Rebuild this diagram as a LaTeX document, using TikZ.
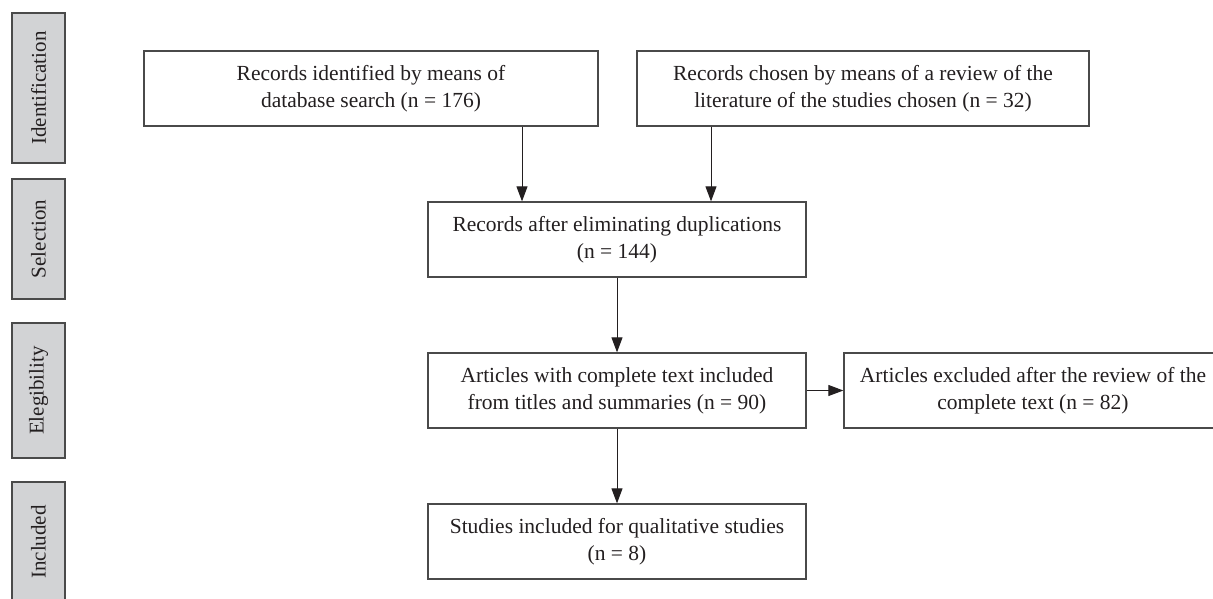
\documentclass[tikz,border=0pt]{standalone}
\usepackage{fontspec}
\setmainfont{Liberation Serif}
\usetikzlibrary{arrows.meta}
\definecolor{boxline}{HTML}{4A4A4A}
\definecolor{inkc}{HTML}{231F20}
\definecolor{barfill}{HTML}{D2D3D5}
\begin{document}
\begin{tikzpicture}[x=1pt,y=-1pt,
  box/.style={draw=boxline, line width=1.3pt, align=center, inner sep=0pt,
    minimum height=75pt, text=inkc, font=\fontsize{21.5}{27}\selectfont},
  bar/.style={draw=boxline, fill=barfill, line width=1.3pt, rotate=90, inner sep=0pt,
    minimum height=53pt, text=inkc, font=\fontsize{21}{24}\selectfont},
  arr/.style={draw=inkc, line width=1pt, -{Triangle[length=15pt,width=11pt]}}]
\useasboundingbox (0,0) rectangle (1213,598);
\fill[white] (0,0) rectangle (1213,598);
\clip (0,0) rectangle (1213,598);
% side bars
\node[bar, minimum width=150pt] (bid) at (38.5,88) {Identification};
\node[bar, minimum width=120pt] (bsel) at (38.5,239) {Selection};
\node[bar, minimum width=135pt] (bel) at (38.5,390.5) {Elegibility};
\node[bar, minimum width=120pt] (binc) at (38.5,542) {Included};
% boxes
\node[box, minimum width=454pt] (b1) at (371,88.5) {Records identified by means of\\database search (n = 176)};
\node[box, minimum width=452pt] (b2) at (863,88.5) {Records chosen by means of a review of the\\literature of the studies chosen (n = 32)};
\node[box, minimum width=378pt] (b3) at (617,239.5) {Records after eliminating duplications\\(n = 144)};
\node[box, minimum width=378pt] (b4) at (617,390.5) {Articles with complete text included\\from titles and summaries (n = 90)};
\node[box, minimum width=378pt] (b5) at (1033,390.5) {Articles excluded after the review of the\\complete text (n = 82)};
\node[box, minimum width=378pt] (b6) at (617,541.5) {Studies included for qualitative studies\\(n = 8)};
% connectors
\draw[arr] (b1.south -| 522,0) -- (b3.north -| 522,0);
\draw[arr] (b2.south -| 711,0) -- (b3.north -| 711,0);
\draw[arr] (b3) -- (b4);
\draw[arr] (b4) -- (b6);
\draw[arr] (b4) -- (b5);
\end{tikzpicture}
\end{document}
